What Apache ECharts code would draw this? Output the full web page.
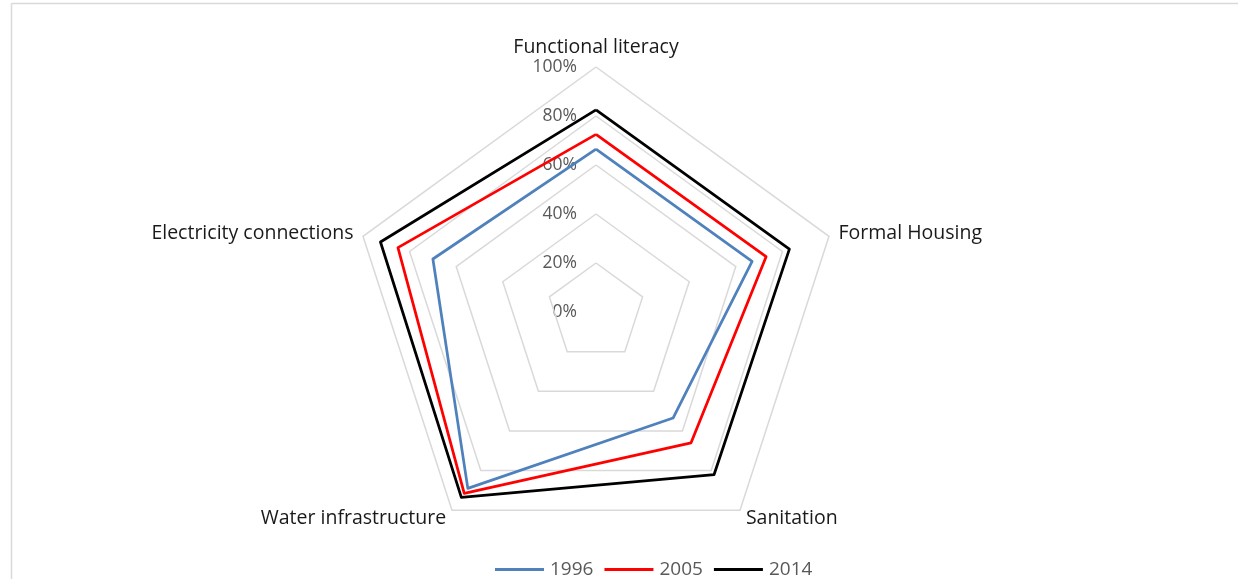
<!DOCTYPE html>
<html>
<head>
<meta charset="utf-8">
<script src="https://cdn.jsdelivr.net/npm/echarts@6/dist/echarts.min.js"></script>
<style>
  html, body { margin: 0; padding: 0; background: #ffffff; }
  #chart { width: 1238px; height: 579px; }
</style>
</head>
<body>
<div id="chart"></div>
<script>
// Service indicators (share of households, %), listed clockwise from the top
const indicators = ['Functional literacy', 'Formal Housing', 'Sanitation', 'Water infrastructure', 'Electricity connections'];
const years = ['1996', '2005', '2014'];
const values1996 = [66.5, 67, 53.5, 89, 70];
const values2005 = [72.5, 73, 66, 91.5, 85];
const values2014 = [82.5, 83, 82, 93.5, 92.5];
const scaleTicks = [0, 20, 40, 60, 80, 100];
const yearColors = ['#4f81bd', '#ff0000', '#000000'];

const FONT = '"Open Sans", "Noto Sans", sans-serif';
const chart = echarts.init(document.getElementById('chart'), null, { renderer: 'canvas' });

const seriesValues = [values1996, values2005, values2014];
// ECharts lays radar indicators out counter-clockwise; walk the list in reverse after the first
const order = [0].concat(indicators.slice(1).map((_, i) => indicators.length - 1 - i));

const frame = [
  { type: 'line', shape: { x1: 11.5, y1: 3.5, x2: 1238, y2: 3.5 }, style: { stroke: '#d9d9d9', lineWidth: 1.5 } },
  { type: 'line', shape: { x1: 11.5, y1: 3.5, x2: 11.5, y2: 579 }, style: { stroke: '#d9d9d9', lineWidth: 1.5 } }
];

chart.setOption({
  animation: false,
  backgroundColor: '#ffffff',
  legend: {
    left: 490,
    top: 555,
    itemWidth: 49,
    itemHeight: 3,
    itemGap: 11,
    icon: 'rect',
    textStyle: { fontFamily: FONT, fontSize: 19, color: '#595959', padding: [0, 0, 0, 1] },
    data: years
  },
  radar: {
    center: [596, 312],
    radius: 245,
    startAngle: 90,
    shape: 'polygon',
    splitNumber: 5,
    nameGap: 10,
    axisName: { fontFamily: FONT, fontSize: 19.5, color: '#1a1a1a' },
    indicator: order.map(k => ({ name: indicators[k], min: 0, max: 100 })),
    splitLine: { lineStyle: { color: '#d9d9d9', width: 1.5 } },
    splitArea: { show: false },
    axisLine: { show: false },
    axisTick: { show: false },
    axisLabel: { show: false }
  },
  graphic: frame,
  series: [{
    type: 'radar',
    symbol: 'none',
    data: years.map((y, i) => ({
      name: y,
      value: order.map(k => seriesValues[i][k]),
      lineStyle: { color: yearColors[i], width: 2.75 },
      itemStyle: { color: yearColors[i] }
    }))
  }]
});

// Radial scale labels along the top spoke, placed through the radar coordinate system
const radarCoord = chart.getModel().getComponent('radar').coordinateSystem;
chart.setOption({
  graphic: frame.concat(scaleTicks.map(t => {
    const p = radarCoord.dataToPoint(t, 0);
    return {
      type: 'text',
      x: p[0] - 19,
      y: p[1],
      style: {
        text: t + '%',
        fontFamily: FONT,
        fontSize: 17.5,
        fill: '#595959',
        align: 'right',
        verticalAlign: 'middle'
      }
    };
  }))
});
</script>
</body>
</html>
